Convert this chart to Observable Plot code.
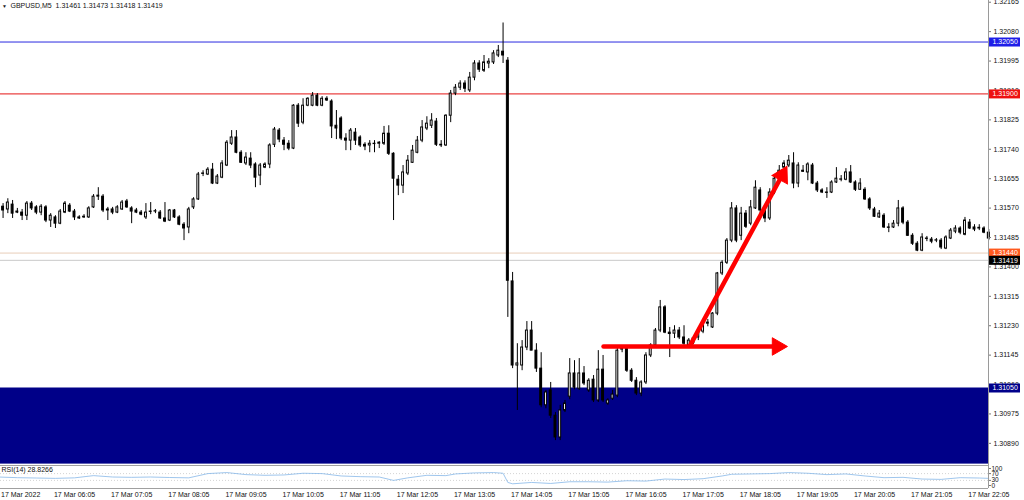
<!DOCTYPE html>
<html><head><meta charset="utf-8">
<script src="https://cdn.jsdelivr.net/npm/d3@7"></script>
<script src="https://cdn.jsdelivr.net/npm/@observablehq/plot@0.6"></script>
<style>
html,body{margin:0;padding:0;background:#fff;}
#chart svg{display:block;}
</style></head><body><div id="chart"></div>
<script>
// ---------------- data ----------------
const symbolName = "GBPUSD,M5";
const lastQuote = [1.31461, 1.31473, 1.31418, 1.31419];

const open = [1.31597,1.31574,1.31566,1.31580,1.31560,1.31557,1.31548,1.31583,1.31572,1.31557,
1.31572,1.31534,1.31543,1.31525,1.31557,1.31577,1.31560,1.31543,1.31543,1.31543,
1.31572,1.31603,1.31603,1.31566,1.31566,1.31557,1.31566,1.31589,1.31569,1.31563,
1.31557,1.31543,1.31560,1.31560,1.31557,1.31540,1.31534,1.31563,1.31543,1.31522,
1.31514,1.31572,1.31595,1.31670,1.31667,1.31681,1.31641,1.31658,1.31693,1.31756,
1.31774,1.31730,1.31699,1.31713,1.31696,1.31664,1.31687,1.31696,1.31753,1.31794,
1.31765,1.31756,1.31742,1.31866,1.31817,1.31866,1.31866,1.31895,1.31866,1.31886,
1.31878,1.31808,1.31829,1.31771,1.31765,1.31788,1.31774,1.31753,1.31751,1.31756,
1.31756,1.31756,1.31785,1.31727,1.31652,1.31635,1.31670,1.31701,1.31730,1.31765,
1.31800,1.31808,1.31820,1.31753,1.31751,1.31837,1.31901,1.31918,1.31930,1.31910,
1.31947,1.31988,1.31967,1.31988,1.31991,1.32011,1.32022,1.31996,1.31358,1.31115,
1.31115,1.31167,1.31216,1.31158,1.31106,1.31000,1.31043,1.30970,1.30907,1.30985,
1.31025,1.31092,1.31048,1.31092,1.31043,1.31074,1.31014,1.31103,1.31005,1.31019,
1.31028,1.31161,1.31164,1.31100,1.31071,1.31034,1.31066,1.31144,1.31173,1.31216,
1.31283,1.31210,1.31207,1.31216,1.31196,1.31173,1.31181,1.31196,1.31213,1.31239,
1.31225,1.31265,1.31381,1.31412,1.31476,1.31569,1.31490,1.31554,1.31525,1.31569,
1.31621,1.31563,1.31540,1.31615,1.31658,1.31687,1.31693,1.31699,1.31641,1.31678,
1.31673,1.31693,1.31641,1.31621,1.31615,1.31615,1.31644,1.31652,1.31652,1.31673,
1.31644,1.31623,1.31623,1.31595,1.31566,1.31543,1.31548,1.31514,1.31514,1.31525,
1.31569,1.31528,1.31490,1.31467,1.31447,1.31482,1.31479,1.31476,1.31476,1.31453,
1.31482,1.31502,1.31511,1.31493,1.31528,1.31514,1.31511,1.31511,1.31499];

const high = [1.31606,1.31583,1.31597,1.31592,1.31569,1.31566,1.31589,1.31589,1.31577,1.31580,
1.31577,1.31554,1.31548,1.31566,1.31589,1.31583,1.31566,1.31548,1.31551,1.31574,
1.31609,1.31629,1.31609,1.31572,1.31572,1.31577,1.31592,1.31595,1.31574,1.31569,
1.31563,1.31583,1.31586,1.31566,1.31563,1.31586,1.31566,1.31566,1.31548,1.31528,
1.31572,1.31600,1.31673,1.31678,1.31687,1.31699,1.31667,1.31707,1.31765,1.31794,
1.31794,1.31736,1.31730,1.31730,1.31701,1.31699,1.31701,1.31756,1.31803,1.31800,
1.31774,1.31765,1.31869,1.31872,1.31886,1.31889,1.31904,1.31901,1.31892,1.31892,
1.31883,1.31852,1.31834,1.31785,1.31800,1.31800,1.31779,1.31759,1.31765,1.31765,
1.31762,1.31806,1.31808,1.31730,1.31664,1.31693,1.31722,1.31751,1.31777,1.31823,
1.31834,1.31843,1.31829,1.31765,1.31840,1.31910,1.31927,1.31938,1.31938,1.31962,
1.31996,1.31996,1.32011,1.32002,1.32025,1.32040,1.32105,1.32005,1.31384,1.31178,
1.31187,1.31242,1.31242,1.31178,1.31152,1.31043,1.31066,1.30979,1.31000,1.31014,
1.31135,1.31129,1.31135,1.31112,1.31077,1.31086,1.31158,1.31144,1.31019,1.31043,
1.31164,1.31170,1.31170,1.31106,1.31080,1.31071,1.31152,1.31178,1.31222,1.31303,
1.31288,1.31225,1.31230,1.31225,1.31230,1.31193,1.31199,1.31216,1.31245,1.31248,
1.31268,1.31384,1.31418,1.31482,1.31586,1.31577,1.31572,1.31563,1.31592,1.31649,
1.31629,1.31577,1.31626,1.31661,1.31693,1.31707,1.31722,1.31730,1.31701,1.31693,
1.31701,1.31699,1.31647,1.31626,1.31629,1.31649,1.31687,1.31664,1.31684,1.31693,
1.31649,1.31655,1.31629,1.31600,1.31572,1.31563,1.31554,1.31525,1.31534,1.31592,
1.31574,1.31534,1.31496,1.31473,1.31496,1.31488,1.31485,1.31482,1.31482,1.31490,
1.31511,1.31519,1.31516,1.31543,1.31537,1.31522,1.31522,1.31516,1.31508];

const low = [1.31569,1.31540,1.31554,1.31540,1.31554,1.31534,1.31534,1.31563,1.31551,1.31548,
1.31528,1.31514,1.31511,1.31522,1.31554,1.31557,1.31534,1.31537,1.31540,1.31540,
1.31569,1.31592,1.31557,1.31534,1.31551,1.31554,1.31563,1.31569,1.31525,1.31554,
1.31548,1.31537,1.31551,1.31554,1.31537,1.31528,1.31531,1.31540,1.31519,1.31476,
1.31496,1.31566,1.31592,1.31661,1.31664,1.31638,1.31638,1.31655,1.31690,1.31751,
1.31727,1.31699,1.31693,1.31684,1.31629,1.31635,1.31684,1.31684,1.31745,1.31759,
1.31736,1.31736,1.31739,1.31803,1.31811,1.31863,1.31863,1.31863,1.31863,1.31878,
1.31771,1.31768,1.31765,1.31736,1.31736,1.31751,1.31745,1.31736,1.31730,1.31730,
1.31742,1.31751,1.31722,1.31534,1.31606,1.31612,1.31664,1.31699,1.31727,1.31759,
1.31794,1.31800,1.31748,1.31745,1.31748,1.31817,1.31895,1.31910,1.31904,1.31904,
1.31938,1.31962,1.31962,1.31973,1.31985,1.32005,1.31988,1.31254,1.31106,1.30985,
1.31100,1.31158,1.31158,1.31095,1.30993,1.30990,1.30962,1.30898,1.30898,1.30979,
1.31016,1.31045,1.31043,1.31057,1.31037,1.31008,1.31008,1.31008,1.31000,1.31014,
1.31022,1.31152,1.31095,1.31066,1.31028,1.31025,1.31060,1.31138,1.31167,1.31210,
1.31207,1.31138,1.31193,1.31190,1.31173,1.31167,1.31175,1.31187,1.31207,1.31227,
1.31222,1.31259,1.31375,1.31407,1.31470,1.31470,1.31476,1.31511,1.31519,1.31566,
1.31548,1.31528,1.31534,1.31609,1.31649,1.31684,1.31687,1.31626,1.31629,1.31673,
1.31649,1.31638,1.31615,1.31612,1.31598,1.31612,1.31641,1.31646,1.31649,1.31641,
1.31618,1.31621,1.31592,1.31563,1.31543,1.31540,1.31511,1.31499,1.31511,1.31516,
1.31522,1.31488,1.31462,1.31444,1.31444,1.31473,1.31467,1.31470,1.31450,1.31450,
1.31479,1.31496,1.31493,1.31490,1.31508,1.31502,1.31505,1.31496,1.31476];

const close = [1.31577,1.31563,1.31586,1.31554,1.31557,1.31548,1.31583,1.31569,1.31557,1.31574,
1.31534,1.31548,1.31525,1.31560,1.31583,1.31560,1.31543,1.31540,1.31545,1.31569,
1.31603,1.31606,1.31563,1.31563,1.31557,1.31572,1.31586,1.31572,1.31560,1.31557,
1.31551,1.31557,1.31559,1.31561,1.31540,1.31531,1.31563,1.31543,1.31522,1.31511,
1.31566,1.31595,1.31667,1.31669,1.31681,1.31641,1.31661,1.31699,1.31759,1.31774,
1.31730,1.31701,1.31716,1.31693,1.31658,1.31693,1.31696,1.31751,1.31797,1.31768,
1.31753,1.31742,1.31866,1.31814,1.31866,1.31886,1.31895,1.31866,1.31886,1.31881,
1.31806,1.31800,1.31771,1.31765,1.31794,1.31765,1.31751,1.31748,1.31756,1.31755,
1.31759,1.31785,1.31727,1.31655,1.31635,1.31673,1.31707,1.31736,1.31765,1.31803,
1.31814,1.31823,1.31753,1.31751,1.31837,1.31901,1.31918,1.31930,1.31915,1.31947,
1.31988,1.31970,1.31991,1.31993,1.32017,1.32025,1.32011,1.31360,1.31115,1.31121,
1.31167,1.31216,1.31158,1.31106,1.31000,1.31037,1.30970,1.30907,1.30985,1.31005,
1.31092,1.31051,1.31092,1.31063,1.31071,1.31014,1.31103,1.31014,1.31014,1.31031,
1.31158,1.31164,1.31100,1.31071,1.31034,1.31066,1.31144,1.31173,1.31216,1.31283,
1.31210,1.31206,1.31216,1.31196,1.31178,1.31187,1.31193,1.31210,1.31236,1.31236,
1.31265,1.31381,1.31412,1.31476,1.31569,1.31476,1.31554,1.31516,1.31572,1.31629,
1.31563,1.31540,1.31615,1.31655,1.31678,1.31699,1.31707,1.31641,1.31693,1.31675,
1.31696,1.31641,1.31621,1.31615,1.31614,1.31644,1.31655,1.31653,1.31673,1.31644,
1.31623,1.31641,1.31595,1.31569,1.31545,1.31554,1.31514,1.31513,1.31525,1.31569,
1.31528,1.31490,1.31467,1.31447,1.31485,1.31481,1.31473,1.31477,1.31456,1.31485,
1.31505,1.31511,1.31499,1.31534,1.31511,1.31508,1.31513,1.31499,1.31482];

const priceTicks = [1.32165,1.32080,1.31995,1.31910,1.31825,1.31740,1.31655,1.31570,
  1.31485,1.31400,1.31315,1.31230,1.31145,1.31060,1.30975,1.30890];

const levelPrices = [1.32050, 1.31900, 1.31440, 1.31419, 1.31050];
const zoneTop = 1.31050, zoneBottom = 1.30830;

// arrows: [bar index, price] start and head
const arrowH = {x1: 127.1, y1: 1.31170, x2: 163.6, y2: 1.31170};
const arrowD = {x1: 145.4, y1: 1.31176, x2: 164.6, y2: 1.31665};

const timeTickBars = [12,24,36,48,60,72,84,96,108,120,132,144,156,168,180,192,204];
const timeTickLabels = ["17 Mar 06:05","17 Mar 07:05","17 Mar 08:05","17 Mar 09:05","17 Mar 10:05",
  "17 Mar 11:05","17 Mar 12:05","17 Mar 13:05","17 Mar 14:05","17 Mar 15:05","17 Mar 16:05",
  "17 Mar 17:05","17 Mar 18:05","17 Mar 19:05","17 Mar 20:05","17 Mar 21:05","17 Mar 22:05"];
const firstDateLabel = "17 Mar 2022";

const rsiBars = [0,4,8,12,16,20,24,28,32,36,40,44,48,52,56,60,64,68,72,76,80,83,86,90,94,96,100,104,106,
  107,108,112,116,120,124,128,132,136,140,144,148,152,154,158,162,166,170,174,178,182,186,190,194,198,202,206,208];
const rsiValues = [50,46,44,42,45,58,50,48,50,47,45,70,76,64,60,62,72,70,56,52,50,30,45,60,58,68,74,76,72,
  18,10,18,12,22,22,20,28,26,38,35,40,56,66,68,70,76,72,64,68,56,46,48,38,36,46,44,42];
const rsiLast = "28.8266";
const rsiTicks = [0, 30, 70, 100];

// ---------------- styles / layout ----------------
const levelStyle = [
  {line: "#2a2ae0", box: "#1e1ee8"},
  {line: "#e41414", box: "#ee1111"},
  {line: "#e9cdb9", box: "#ff5a1f"},
  {line: "#c9c9c9", box: "#000000"},
  {line: "none",    box: "#00008b"}
];
const W = 1024, MR = 36;
const xDomain = [0.46, 207.94];
const yDomain = [1.30826, 1.32170];
const font = "'Liberation Sans', Arial, sans-serif";

const bars = open.map((o, i) => ({i, o, h: high[i], l: low[i], c: close[i]}));
const levelData = levelPrices.map((p, k) => ({p, ...levelStyle[k]}));
const arrows = [arrowH, arrowD];

// arrowhead rotation from the scales
const sx = d3.scaleLinear(xDomain, [0, W - MR]);
const sy = d3.scaleLinear(yDomain, [465, 0]);
arrows.forEach(a => {
  const dx = sx(a.x2) - sx(a.x1), dy = sy(a.y2) - sy(a.y1);
  a.angle = Math.atan2(dx, -dy) * 180 / Math.PI;
});

const titleText = `${symbolName}  ${lastQuote.map(v => v.toFixed(5)).join(" ")}`;

const main = Plot.plot({
  width: W, height: 465,
  marginTop: 0, marginRight: MR, marginBottom: 0, marginLeft: 0,
  style: {fontFamily: font, fontSize: "7px", color: "#111", background: "#fff"},
  x: {domain: xDomain, axis: null},
  y: {domain: yDomain, axis: null},
  color: {type: "identity"},
  marks: [
    Plot.rect([{top: zoneTop, bottom: zoneBottom}], {
      x1: () => xDomain[0], x2: () => xDomain[1], y1: "bottom", y2: "top", fill: "#000088"}),
    Plot.ruleY(levelData, {y: "p", stroke: "line", strokeWidth: 1}),
    Plot.ruleX(bars, {x: "i", y1: "l", y2: "h", stroke: "#000", strokeWidth: 1}),
    Plot.rect(bars, {x1: d => d.i - 0.2, x2: d => d.i + 0.2, y1: "o", y2: "c",
      fill: d => d.c >= d.o ? "#fff" : "#000", stroke: "#000", strokeWidth: 1}),
    Plot.link(arrows, {x1: "x1", y1: "y1", x2: "x2", y2: "y2", stroke: "#ff0000",
      strokeWidth: 4.5, strokeLinecap: "round"}),
    Plot.dot(arrows, {x: "x2", y: "y2", symbol: "triangle", r: 6.5, rotate: "angle",
      fill: "#ff0000", stroke: "#ff0000", strokeWidth: 1}),
    Plot.ruleX([xDomain[1]], {stroke: "#9a9a9a"}),
    Plot.axisY({anchor: "right", ticks: priceTicks, tickFormat: d => d.toFixed(5), label: null,
      tickSize: 2, tickPadding: 3, fontSize: 7, stroke: "#777", fill: "#111"}),
    Plot.ruleY(levelData, {y: "p", stroke: "box", strokeWidth: 9, insetLeft: W - MR + 1, insetRight: -32}),
    Plot.text(levelData, {y: "p", text: d => d.p.toFixed(5), frameAnchor: "right",
      textAnchor: "start", dx: 4, fill: "#fff", fontSize: 7}),
    Plot.text(["\u25BC"], {text: d => d, frameAnchor: "top-left", dx: 1.5, dy: 3.5,
      lineAnchor: "top", fontSize: 5, fill: "#222"}),
    Plot.text([titleText], {text: d => d, frameAnchor: "top-left", dx: 10, dy: 2.5,
      lineAnchor: "top", fontSize: 7, fill: "#111"})
  ]
});

const rsiDomain = [-17.6, 117.6];
const rsiData = rsiBars.map((i, k) => ({i, v: rsiValues[k]}));
const timeData = timeTickBars.map((i, k) => ({i, label: timeTickLabels[k]}));

const rsi = Plot.plot({
  width: W, height: 35,
  marginTop: 0, marginRight: MR, marginBottom: 12, marginLeft: 0,
  style: {fontFamily: font, fontSize: "7px", color: "#111", background: "#fff"},
  x: {domain: xDomain, axis: null},
  y: {domain: rsiDomain, axis: null},
  marks: [
    Plot.ruleY([30, 70], {stroke: "#d4d4d4", strokeDasharray: "1,2"}),
    Plot.line(rsiData, {x: "i", y: "v", stroke: "#86b8e8", strokeWidth: 0.8}),
    Plot.ruleY(rsiDomain, {stroke: "#a0a0a0"}),
    Plot.ruleX([xDomain[1]], {stroke: "#9a9a9a"}),
    Plot.axisY({anchor: "right", ticks: rsiTicks, label: null, tickSize: 2, tickPadding: 1,
      fontSize: 6.5, stroke: "#777", fill: "#111"}),
    Plot.text([`RSI(14) ${rsiLast}`], {text: d => d, frameAnchor: "top-left", dx: 1,
      dy: 2, lineAnchor: "top", fontSize: 7, fill: "#111"}),
    Plot.text([firstDateLabel], {text: d => d, frameAnchor: "bottom-left", dx: 0.5, dy: 6,
      textAnchor: "start", lineAnchor: "middle", fontSize: 7, fill: "#111"}),
    Plot.text(timeData, {x: "i", text: "label", frameAnchor: "bottom", dx: -1.5, dy: 6,
      textAnchor: "start", lineAnchor: "middle", fontSize: 7, fill: "#111"})
  ]
});

const el = document.getElementById("chart");
el.appendChild(main);
el.appendChild(rsi);
</script>
</body></html>
